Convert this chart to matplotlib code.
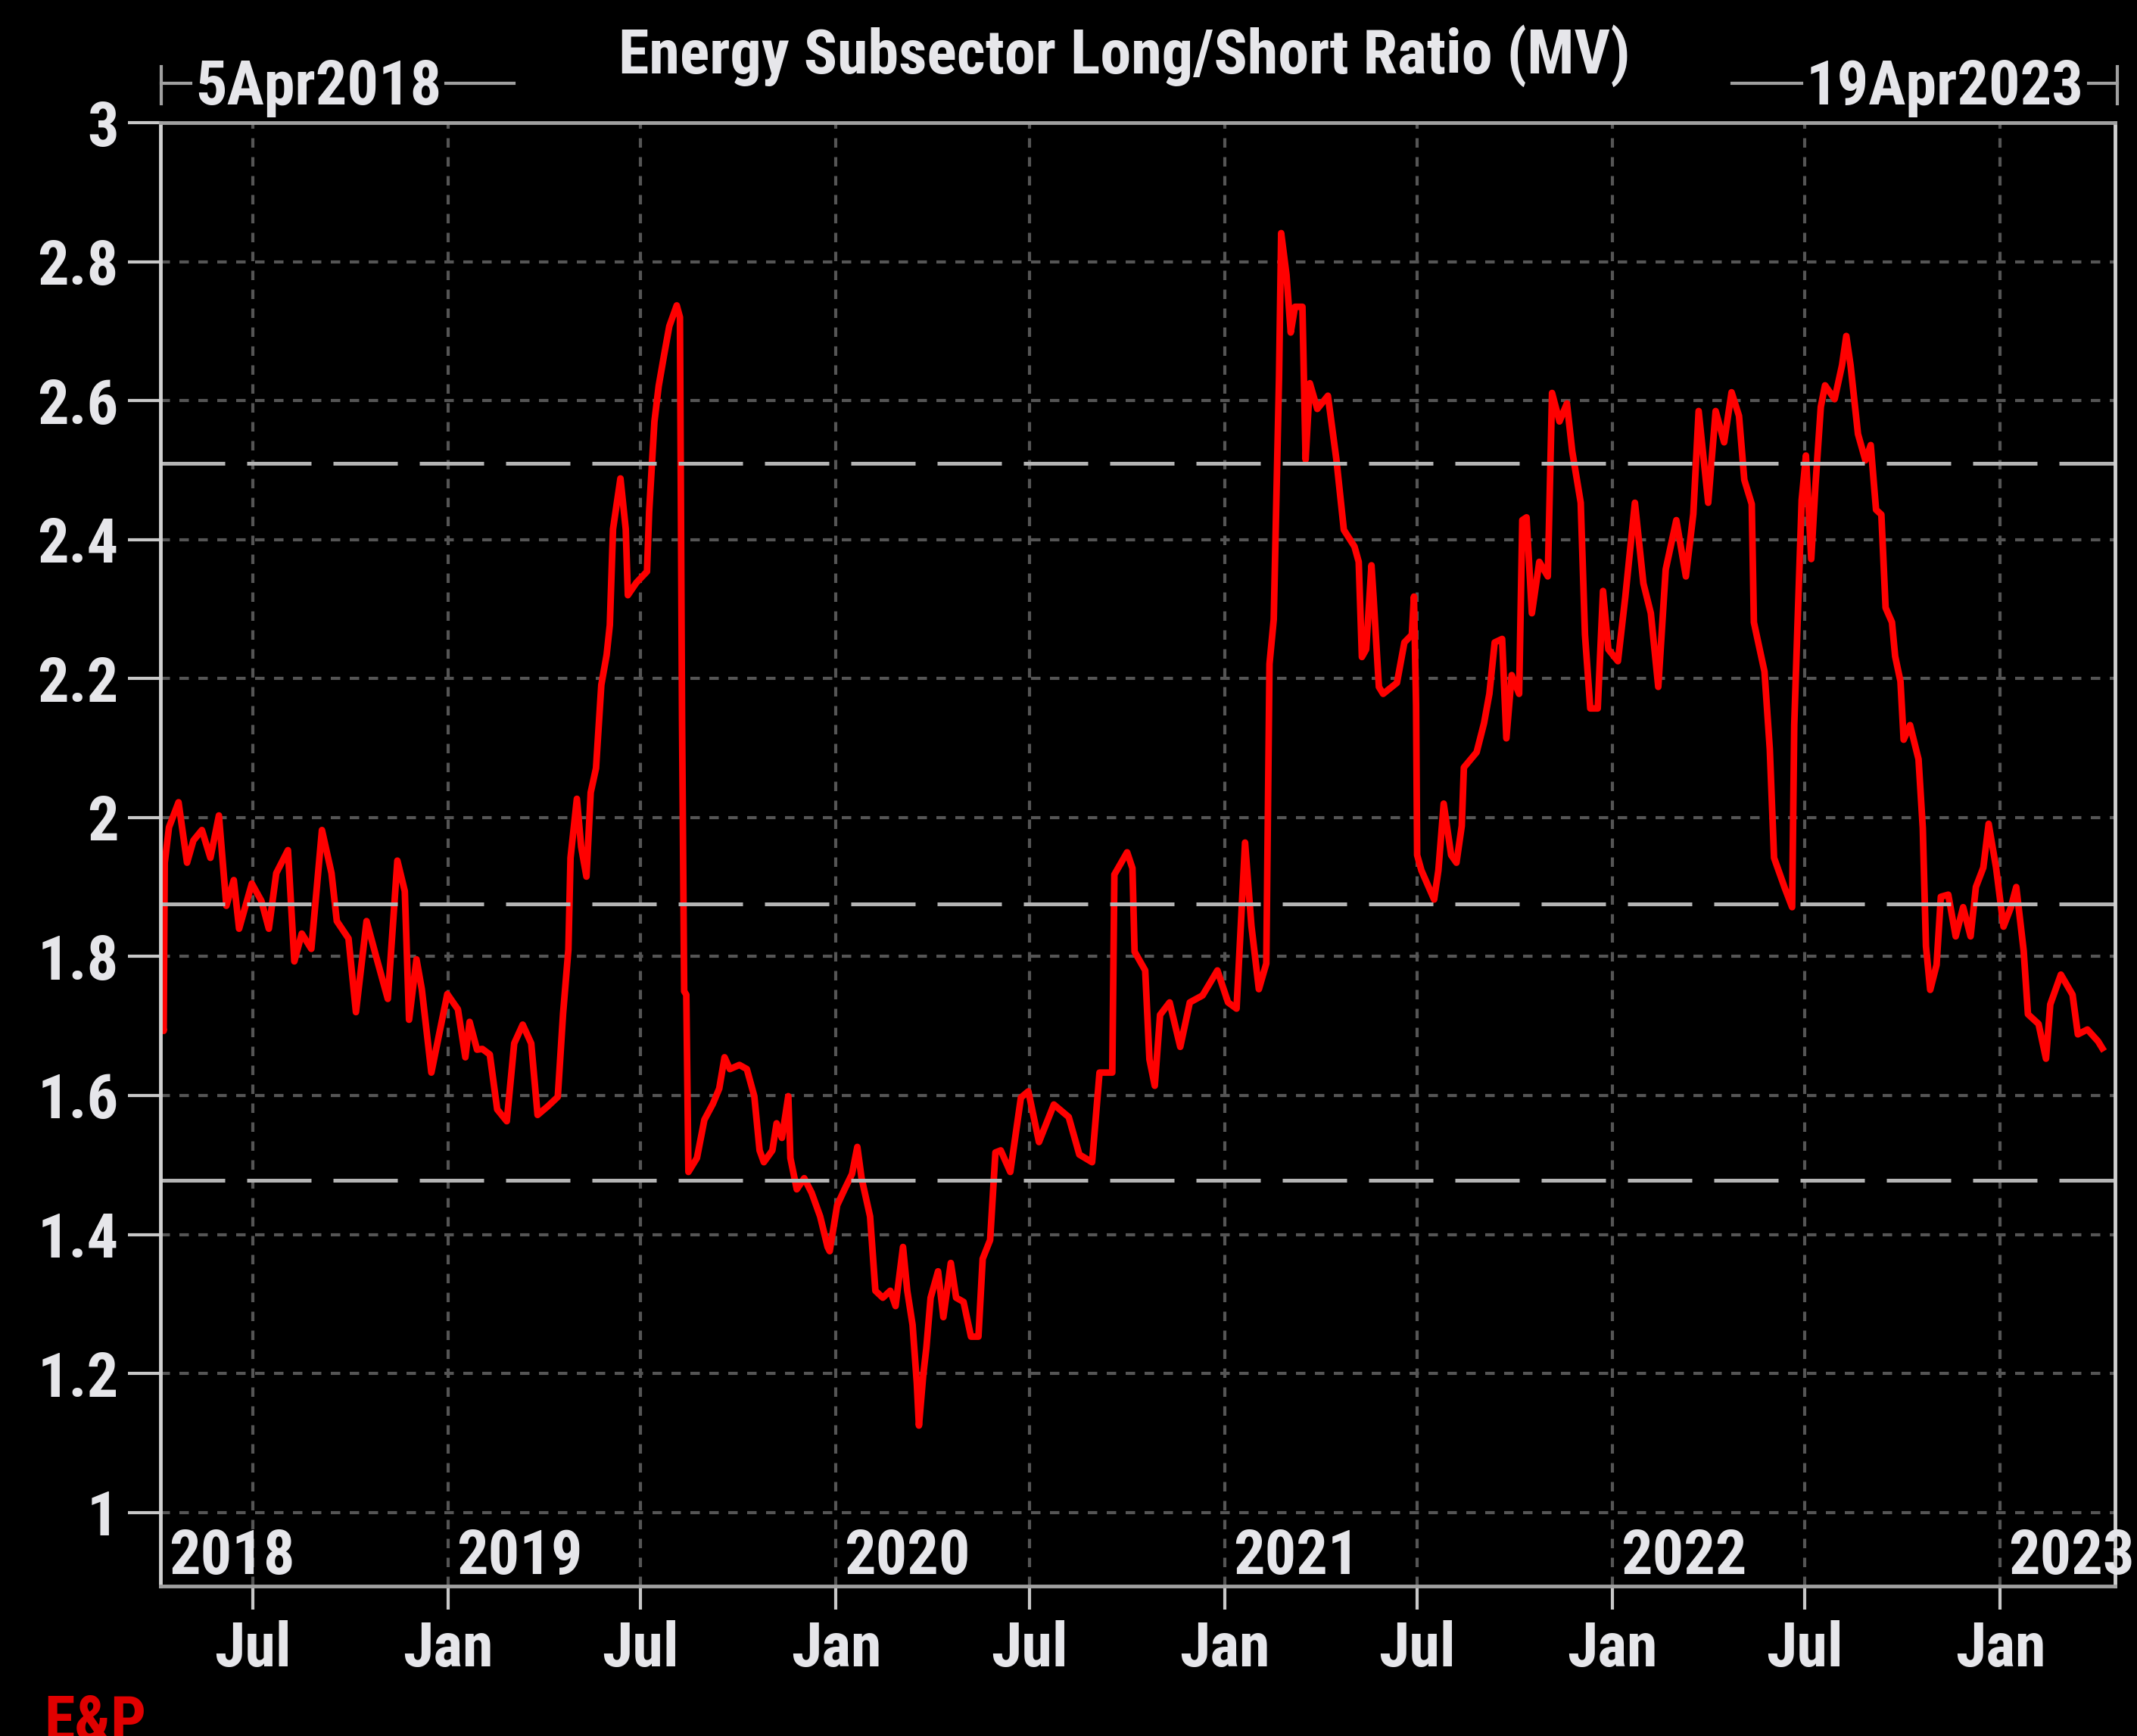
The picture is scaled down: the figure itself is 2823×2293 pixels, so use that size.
import os
import numpy as np
import pandas as pd
import matplotlib
matplotlib.use("Agg")
import matplotlib.pyplot as plt
import matplotlib.dates as mdates
import matplotlib.font_manager as fm
from matplotlib.lines import Line2D
from matplotlib.ticker import FuncFormatter
from matplotlib.transforms import blended_transform_factory

# --- chart text / reference values ---
TITLE = "Energy Subsector Long/Short Ratio (MV)"
START_LABEL = "5Apr2018"
END_LABEL = "19Apr2023"
SOURCE = "E&P"
x_start = "2018-04-05"
x_end = "2023-04-19"
band_levels = [2.51, 1.876, 1.478]
year_labels = ["2018", "2019", "2020", "2021", "2022", "2023"]

# --- series ---
dates = [
    "2018-04-05", "2018-04-08", "2018-04-09", "2018-04-13", "2018-04-22", "2018-04-30",
    "2018-05-06", "2018-05-14", "2018-05-22", "2018-05-30", "2018-06-06", "2018-06-13",
    "2018-06-18", "2018-06-30", "2018-07-09", "2018-07-16", "2018-07-23", "2018-08-03",
    "2018-08-09", "2018-08-16", "2018-08-25", "2018-09-04", "2018-09-13", "2018-09-18",
    "2018-09-29", "2018-10-06", "2018-10-16", "2018-10-25", "2018-11-05", "2018-11-14",
    "2018-11-21", "2018-11-25", "2018-12-02", "2018-12-07", "2018-12-16", "2018-12-31",
    "2019-01-10", "2019-01-17", "2019-01-21", "2019-01-28", "2019-02-02", "2019-02-09",
    "2019-02-16", "2019-02-25", "2019-03-04", "2019-03-12", "2019-03-20", "2019-03-26",
    "2019-04-05", "2019-04-14", "2019-04-19", "2019-04-24", "2019-04-26", "2019-05-02",
    "2019-05-06", "2019-05-11", "2019-05-15", "2019-05-20", "2019-05-25", "2019-05-30",
    "2019-06-02", "2019-06-05", "2019-06-12", "2019-06-17", "2019-06-19", "2019-06-27",
    "2019-07-07", "2019-07-09", "2019-07-14", "2019-07-18", "2019-07-23", "2019-07-28",
    "2019-08-04", "2019-08-07", "2019-08-09", "2019-08-11", "2019-08-13", "2019-08-15",
    "2019-08-23", "2019-08-30", "2019-09-07", "2019-09-13", "2019-09-18", "2019-09-23",
    "2019-10-02", "2019-10-09", "2019-10-16", "2019-10-21", "2019-10-25", "2019-11-02",
    "2019-11-06", "2019-11-11", "2019-11-17", "2019-11-19", "2019-11-25", "2019-12-02",
    "2019-12-09", "2019-12-17", "2019-12-24", "2019-12-26", "2020-01-02", "2020-01-09",
    "2020-01-16", "2020-01-21", "2020-01-25", "2020-02-02", "2020-02-07", "2020-02-14",
    "2020-02-21", "2020-02-26", "2020-03-04", "2020-03-08", "2020-03-13", "2020-03-17",
    "2020-03-19", "2020-03-23", "2020-03-26", "2020-03-30", "2020-04-06", "2020-04-11",
    "2020-04-18", "2020-04-23", "2020-04-30", "2020-05-07", "2020-05-14", "2020-05-18",
    "2020-05-25", "2020-05-30", "2020-06-04", "2020-06-13", "2020-06-23", "2020-06-30",
    "2020-07-10", "2020-07-24", "2020-08-07", "2020-08-17", "2020-08-29", "2020-09-05",
    "2020-09-17", "2020-09-19", "2020-10-01", "2020-10-06", "2020-10-08", "2020-10-18",
    "2020-10-22", "2020-10-27", "2020-11-01", "2020-11-10", "2020-11-20", "2020-11-29",
    "2020-12-11", "2020-12-25", "2021-01-04", "2021-01-12", "2021-01-20", "2021-01-26",
    "2021-02-02", "2021-02-09", "2021-02-12", "2021-02-16", "2021-02-19", "2021-02-21",
    "2021-02-23", "2021-02-28", "2021-03-04", "2021-03-08", "2021-03-15", "2021-03-18",
    "2021-03-22", "2021-03-29", "2021-04-08", "2021-04-16", "2021-04-23", "2021-05-03",
    "2021-05-07", "2021-05-10", "2021-05-14", "2021-05-19", "2021-05-21", "2021-05-26",
    "2021-05-30", "2021-06-12", "2021-06-19", "2021-06-26", "2021-06-28", "2021-06-30",
    "2021-07-01", "2021-07-05", "2021-07-17", "2021-07-21", "2021-07-26", "2021-08-02",
    "2021-08-07", "2021-08-12", "2021-08-14", "2021-08-26", "2021-09-02", "2021-09-07",
    "2021-09-12", "2021-09-19", "2021-09-23", "2021-09-28", "2021-10-05", "2021-10-08",
    "2021-10-12", "2021-10-17", "2021-10-24", "2021-11-01", "2021-11-05", "2021-11-12",
    "2021-11-19", "2021-11-24", "2021-12-02", "2021-12-06", "2021-12-11", "2021-12-18",
    "2021-12-23", "2021-12-28", "2022-01-06", "2022-01-13", "2022-01-22", "2022-01-30",
    "2022-02-06", "2022-02-13", "2022-02-20", "2022-03-02", "2022-03-11", "2022-03-18",
    "2022-03-23", "2022-04-01", "2022-04-08", "2022-04-16", "2022-04-23", "2022-04-30",
    "2022-05-05", "2022-05-12", "2022-05-14", "2022-05-24", "2022-05-29", "2022-06-02",
    "2022-06-12", "2022-06-19", "2022-06-21", "2022-06-24", "2022-06-28", "2022-07-02",
    "2022-07-07", "2022-07-11", "2022-07-16", "2022-07-20", "2022-07-29", "2022-08-05",
    "2022-08-09", "2022-08-13", "2022-08-20", "2022-08-27", "2022-09-01", "2022-09-06",
    "2022-09-11", "2022-09-15", "2022-09-21", "2022-09-24", "2022-09-29", "2022-10-02",
    "2022-10-08", "2022-10-16", "2022-10-20", "2022-10-23", "2022-10-27", "2022-11-02",
    "2022-11-06", "2022-11-13", "2022-11-20", "2022-11-27", "2022-12-04", "2022-12-09",
    "2022-12-16", "2022-12-21", "2022-12-28", "2023-01-04", "2023-01-11", "2023-01-16",
    "2023-01-23", "2023-01-27", "2023-02-06", "2023-02-13", "2023-02-17", "2023-02-27",
    "2023-03-10", "2023-03-15", "2023-03-24", "2023-04-03", "2023-04-07",
]
values = [
    1.724, 1.693, 1.935, 1.986, 2.022, 1.935,
    1.967, 1.982, 1.942, 2.003, 1.873, 1.910,
    1.840, 1.905, 1.880, 1.840, 1.920, 1.953,
    1.793, 1.833, 1.811, 1.982, 1.920, 1.851,
    1.826, 1.720, 1.851, 1.800, 1.739, 1.938,
    1.894, 1.709, 1.796, 1.753, 1.633, 1.746,
    1.724, 1.655, 1.706, 1.666, 1.667, 1.659,
    1.580, 1.563, 1.675, 1.702, 1.675, 1.572,
    1.585, 1.598, 1.718, 1.810, 1.942, 2.027,
    1.958, 1.915, 2.036, 2.071, 2.191, 2.234,
    2.277, 2.415, 2.488, 2.415, 2.320, 2.338,
    2.354, 2.440, 2.570, 2.621, 2.665, 2.707,
    2.737, 2.720, 2.140, 1.750, 1.745, 1.490,
    1.510, 1.565, 1.588, 1.610, 1.655, 1.638,
    1.644, 1.638, 1.599, 1.521, 1.504, 1.521,
    1.560, 1.539, 1.599, 1.510, 1.465, 1.481,
    1.460, 1.426, 1.382, 1.376, 1.442, 1.465,
    1.487, 1.526, 1.481, 1.426, 1.319, 1.309,
    1.319, 1.297, 1.382, 1.319, 1.270, 1.186,
    1.125, 1.197, 1.237, 1.309, 1.347, 1.281,
    1.359, 1.309, 1.303, 1.253, 1.253, 1.365,
    1.392, 1.518, 1.521, 1.490, 1.597, 1.606,
    1.533, 1.587, 1.569, 1.515, 1.504, 1.633,
    1.633, 1.918, 1.950, 1.927, 1.807, 1.780,
    1.652, 1.614, 1.716, 1.734, 1.670, 1.734,
    1.744, 1.780, 1.734, 1.725, 1.964, 1.844,
    1.753, 1.790, 2.221, 2.285, 2.497, 2.634,
    2.841, 2.781, 2.698, 2.735, 2.735, 2.515,
    2.625, 2.588, 2.607, 2.515, 2.414, 2.390,
    2.368, 2.231, 2.242, 2.363, 2.316, 2.188,
    2.178, 2.194, 2.252, 2.263, 2.318, 2.162,
    1.946, 1.924, 1.882, 1.924, 2.020, 1.946,
    1.935, 1.988, 2.072, 2.094, 2.136, 2.178,
    2.252, 2.257, 2.114, 2.205, 2.178, 2.428,
    2.432, 2.294, 2.368, 2.347, 2.611, 2.570,
    2.596, 2.527, 2.453, 2.263, 2.157, 2.157,
    2.326, 2.242, 2.225, 2.318, 2.453, 2.337,
    2.294, 2.188, 2.357, 2.428, 2.347, 2.437,
    2.585, 2.453, 2.585, 2.540, 2.612, 2.578,
    2.486, 2.451, 2.281, 2.210, 2.098, 1.942,
    1.899, 1.871, 2.133, 2.274, 2.457, 2.521,
    2.372, 2.479, 2.591, 2.622, 2.602, 2.651,
    2.693, 2.651, 2.552, 2.514, 2.536, 2.443,
    2.436, 2.302, 2.281, 2.232, 2.196, 2.112,
    2.133, 2.084, 1.985, 1.815, 1.752, 1.788,
    1.886, 1.889, 1.829, 1.871, 1.829, 1.900,
    1.928, 1.991, 1.928, 1.843, 1.871, 1.900,
    1.808, 1.717, 1.703, 1.653, 1.731, 1.774,
    1.745, 1.688, 1.695, 1.678, 1.668,
]

W, H = 2823, 2293
TEXT = '#e6e6ea'
GREY = '#a0a0a0'
TITLE_PX = 1332      # width of the title in the reference, pixels
MONTH_TOP_PX = 2140  # top of the Jan/Jul labels in the reference, pixels from top


def find_narrow_font():
    """Look for a condensed/narrow bold face among the installed fonts."""
    prefs = ['liberationsansnarrow-bold', 'notosans-condensedbold',
             'robotocondensed-bold', 'opensans-condensedbold',
             'dejavusanscondensed-bold', 'notosans-semicondensedbold',
             'opensans-semicondensedbold']
    files = [f.fname for f in fm.fontManager.ttflist]
    for p in prefs:
        for fn in files:
            base = os.path.basename(fn).lower().replace('_', '-').replace(' ', '')
            if base.startswith(p):
                return fn
    return None


narrow = find_narrow_font()
BASE = dict(fname=narrow) if narrow else dict(family='Liberation Sans', weight='bold')
SIZE = 60


def font(scale=1.0):
    return fm.FontProperties(size=SIZE * scale, **BASE)


def fx(px):
    return px / W


def fy(py):
    # py measured from the top of the image
    return 1 - py / H


fig = plt.figure(figsize=(W / 100, H / 100), dpi=100, facecolor='black')

# shrink the type until the title is about as wide as in the reference
r = fig.canvas.get_renderer()
probe = fig.text(0, 0, TITLE, fontproperties=font())
w60 = probe.get_window_extent(r).width
probe.remove()
SIZE = 60 * min(1.0, (TITLE_PX / w60) ** 0.75)

ax = fig.add_axes([fx(212), fy(2095), fx(2794 - 212), (2095 - 162) / H])
ax.set_facecolor('black')

t = pd.to_datetime(dates)
ax.plot(t, values, color='#ff0000', lw=6.3, zorder=3)

for lvl in band_levels:
    ax.axhline(lvl, color='#b4b4b4', lw=3.6, dashes=(17, 5.8), zorder=4)

ax.set_xlim(pd.Timestamp(x_start), pd.Timestamp(x_end))
ax.set_ylim(0.894, 3.0)
ax.set_yticks(np.arange(1.0, 3.01, 0.2))
ax.yaxis.set_major_formatter(FuncFormatter(lambda v, p: f'{v:g}'))
ax.xaxis.set_major_locator(mdates.MonthLocator(bymonth=[1, 7]))
ax.xaxis.set_major_formatter(mdates.DateFormatter('%b'))

ax.grid(True, color='#555555', linestyle=(0, (3, 3)), linewidth=3)
ax.set_axisbelow(True)

XPAD = 11
ax.tick_params(axis='x', direction='out', length=22, width=3, color='#c8c8c8',
               pad=XPAD, labelcolor=TEXT)
ax.tick_params(axis='y', direction='out', length=31, width=3, color='#c8c8c8',
               pad=9, labelcolor=TEXT)
for lbl in ax.get_xticklabels() + ax.get_yticklabels():
    lbl.set_fontproperties(font())

for name, sp in ax.spines.items():
    sp.set_linewidth(3.5)
    sp.set_color('#d0d0d0' if name in ('left', 'right') else GREY)
    sp.set_zorder(5)

# year labels sitting just above the bottom spine
trans = blended_transform_factory(ax.transData, ax.transAxes)
x0 = pd.Timestamp(x_start)
for yl in year_labels:
    xa = max(pd.Timestamp(yl + "-01-01"), x0)
    ax.annotate(yl, xy=(mdates.date2num(xa), 0), xycoords=trans,
                xytext=(8, 11.5), textcoords='offset points',
                ha='left', va='baseline', fontproperties=font(), color=TEXT,
                annotation_clip=False, clip_on=False, zorder=6)

fig.text(fx(1485), fy(97), TITLE, ha='center', va='baseline',
         fontproperties=font(), color=TEXT)
fig.text(fx(58), fy(2298), SOURCE, ha='left', va='baseline',
         fontproperties=font(1.0), color='#e00000')

# date range brackets above the plot
t_left = fig.text(fx(258), fy(138), START_LABEL, ha='left', va='baseline',
                  fontproperties=font(), color=TEXT)
t_right = fig.text(fx(2753), fy(138), END_LABEL, ha='right', va='baseline',
                   fontproperties=font(), color=TEXT)
fig.canvas.draw()
r = fig.canvas.get_renderer()

# put the month labels where they sit in the reference
tops = [l.get_window_extent(r).y1 for l in ax.get_xticklabels() if l.get_text()]
if tops:
    shift_px = max(tops) - (H - MONTH_TOP_PX)
    ax.tick_params(axis='x', pad=XPAD + shift_px * 72 / 100)

bl = t_left.get_window_extent(r)
br = t_right.get_window_extent(r)
ly = fy(110)
segs = [
    ([fx(213), fx(213)], [fy(88), fy(137)]),
    ([fx(213), (bl.x0 - 6) / W], [ly, ly]),
    ([(bl.x1 + 6) / W, max(fx(679), (bl.x1 + 60) / W)], [ly, ly]),
    ([min(fx(2288), (br.x0 - 60) / W), (br.x0 - 6) / W], [ly, ly]),
    ([(br.x1 + 6) / W, fx(2797)], [ly, ly]),
    ([fx(2797), fx(2797)], [fy(88), fy(137)]),
]
for xs, ys in segs:
    fig.add_artist(Line2D(xs, ys, transform=fig.transFigure, color=GREY, lw=3))

fig.savefig('out.png', dpi=100, facecolor='black')
